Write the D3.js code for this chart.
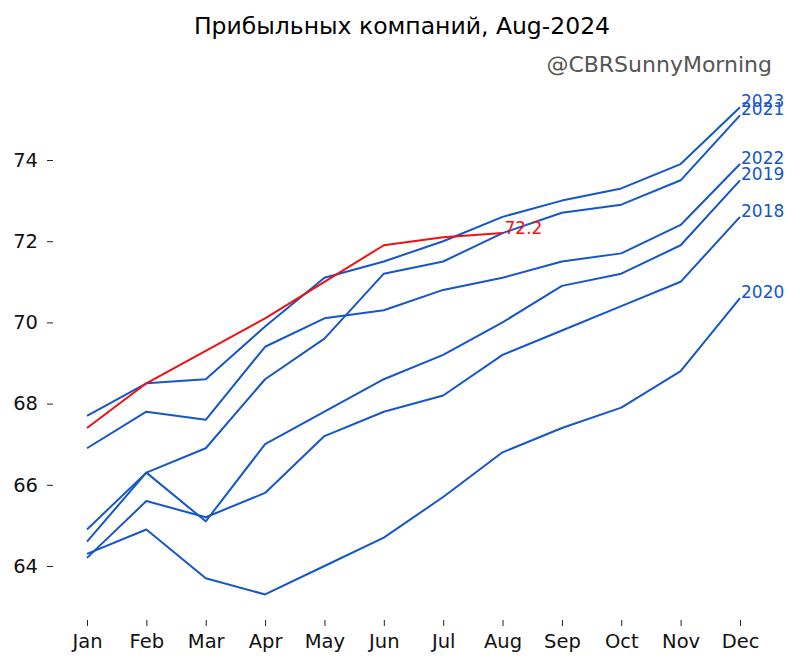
<!DOCTYPE html>
<html>
<head>
<meta charset="utf-8">
<script src="https://cdn.jsdelivr.net/npm/d3@7"></script>
<style>
  html, body { margin: 0; padding: 0; background: #fff; }
  svg { display: block; }
  text { font-family: "DejaVu Sans", sans-serif; }
</style>
</head>
<body>
<svg id="chart" width="800" height="668"></svg>
<script>
const months = ["Jan","Feb","Mar","Apr","May","Jun","Jul","Aug","Sep","Oct","Nov","Dec"];
const yTicks = [64, 66, 68, 70, 72, 74];

const y2018 = [64.2, 65.6, 65.2, 65.8, 67.2, 67.8, 68.2, 69.2, 69.8, 70.4, 71.0, 72.6];
const y2019 = [64.6, 66.3, 65.1, 67.0, 67.8, 68.6, 69.2, 70.0, 70.9, 71.2, 71.9, 73.5];
const y2020 = [64.3, 64.9, 63.7, 63.3, 64.0, 64.7, 65.7, 66.8, 67.4, 67.9, 68.8, 70.6];
const y2021 = [64.9, 66.3, 66.9, 68.6, 69.6, 71.2, 71.5, 72.2, 72.7, 72.9, 73.5, 75.1];
const y2022 = [66.9, 67.8, 67.6, 69.4, 70.1, 70.3, 70.8, 71.1, 71.5, 71.7, 72.4, 73.9];
const y2023 = [67.7, 68.5, 68.6, 69.9, 71.1, 71.5, 72.0, 72.6, 73.0, 73.3, 73.9, 75.3];
const y2024 = [67.4, 68.5, 69.3, 70.1, 71.0, 71.9, 72.1, 72.2];

const pastYears = [
  {name: "2018", values: y2018},
  {name: "2019", values: y2019},
  {name: "2020", values: y2020},
  {name: "2021", values: y2021},
  {name: "2022", values: y2022},
  {name: "2023", values: y2023}
];
const current = {name: "2024", values: y2024};

const titleText = "Прибыльных компаний, Aug-2024";
const credit = "@CBRSunnyMorning";

const blue = "#1556c8";
const red = "#f01010";

const svg = d3.select("#chart");

const x = d3.scalePoint().domain(months).range([87, 740]);
const y = d3.scaleLinear().domain([64, 74]).range([566, 160]);

const line = d3.line()
  .x((d, i) => x(months[i]))
  .y(d => y(d));

// axes
const xAxis = d3.axisBottom(x).tickSize(6).tickPadding(8);
const gx = svg.append("g").attr("transform", "translate(0,620)").call(xAxis);
gx.select(".domain").remove();
gx.selectAll(".tick line").attr("stroke", "#222").attr("stroke-width", 1);
gx.selectAll(".tick text").attr("fill", "#111").style("font-size", "19.5px")
  .attr("font-family", "DejaVu Sans");

const yAxis = d3.axisLeft(y).tickValues(yTicks).tickSize(6).tickPadding(9);
const gy = svg.append("g").attr("transform", "translate(53,0)").call(yAxis);
gy.select(".domain").remove();
gy.selectAll(".tick line").attr("stroke", "#222").attr("stroke-width", 1);
gy.selectAll(".tick text").attr("fill", "#111").style("font-size", "19.5px")
  .attr("font-family", "DejaVu Sans");

// past years
pastYears.forEach(s => {
  svg.append("path")
    .datum(s.values)
    .attr("fill", "none")
    .attr("stroke", blue)
    .attr("stroke-width", 2)
    .attr("stroke-linejoin", "round")
    .attr("d", line);
  const last = s.values.length - 1;
  svg.append("text")
    .attr("x", x(months[last]) + 1)
    .attr("y", y(s.values[last]))
    .attr("fill", blue)
    .style("font-size", "17px")
    .text(s.name);
});

// current year
svg.append("path")
  .datum(current.values)
  .attr("fill", "none")
  .attr("stroke", red)
  .attr("stroke-width", 2)
  .attr("stroke-linejoin", "round")
  .attr("d", line);
const li = current.values.length - 1;
svg.append("text")
  .attr("x", x(months[li]) + 2)
  .attr("y", y(current.values[li]) + 1)
  .attr("fill", red)
  .style("font-size", "17px")
  .text(current.values[li].toFixed(1));

// title & credit
svg.append("text")
  .attr("x", 402).attr("y", 34)
  .attr("text-anchor", "middle")
  .attr("fill", "#000")
  .style("font-size", "23.5px")
  .text(titleText);

svg.append("text")
  .attr("x", 772).attr("y", 72)
  .attr("text-anchor", "end")
  .attr("fill", "#555")
  .style("font-size", "22px")
  .text(credit);
</script>
</body>
</html>
